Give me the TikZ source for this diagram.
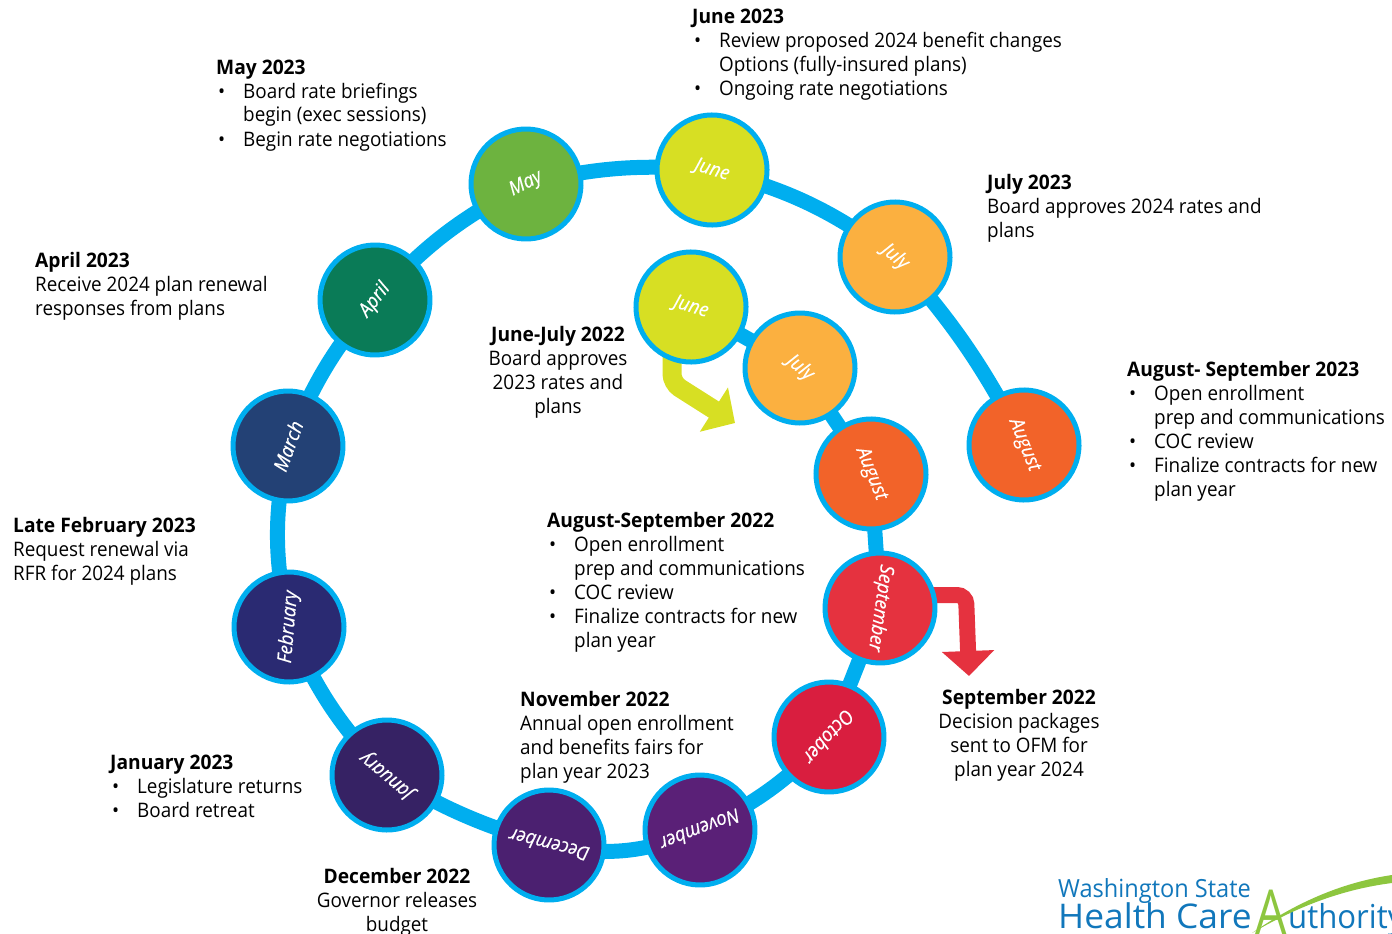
\documentclass[tikz,border=0pt]{standalone}
\usepackage{fontspec}
\setmainfont[FakeStretch=0.943,BoldFeatures={FakeStretch=0.96}]{Open Sans}
\newfontfamily\logofont[FakeStretch=1.04]{Open Sans}
\newfontfamily\logoletter[FakeStretch=0.8]{Open Sans}
\usetikzlibrary{arrows.meta,backgrounds}
\definecolor{ringblue}{HTML}{00AEEF}
\definecolor{cJune}{HTML}{D7DF23}
\definecolor{cMay}{HTML}{6DB33F}
\definecolor{cJuly}{HTML}{FBB040}
\definecolor{cAugust}{HTML}{F26329}
\definecolor{cApril}{HTML}{0A7B57}
\definecolor{cMarch}{HTML}{234175}
\definecolor{cFebruary}{HTML}{2A2A72}
\definecolor{cJanuary}{HTML}{362264}
\definecolor{cDecember}{HTML}{4B2070}
\definecolor{cNovember}{HTML}{5A2077}
\definecolor{cOctober}{HTML}{D91E3F}
\definecolor{cSeptember}{HTML}{E5323F}
\definecolor{logoblue}{HTML}{1177BB}
\definecolor{logogreen}{HTML}{8DC63F}
\newcommand{\bitem}{\makebox[27pt][l]{\hspace{2pt}\textbullet}}
\newcommand{\bcont}{\hspace*{27pt}}
\begin{document}
\begin{tikzpicture}[
    x=1pt,
    y=-1pt,
    month/.style={
		circle,
		draw=ringblue,
		line width=5pt,
		minimum size=110pt,
		inner sep=0pt,
		text=white,
		font=\fontsize{19.5}{23}\selectfont\itshape\addfontfeature{FakeBold=0.4}
	},
	note/.style={
		anchor=north west,
		inner sep=0pt,
		font=\fontsize{20}{24}\selectfont
	},
	notemid/.style={
		note,
		anchor=north
	},
	ring/.style={
		draw=ringblue,
		line width=15pt
	},
	sidearrow/.style={
		rounded corners=9pt,
		-{Triangle[length=25pt,width=51pt]}
	}
  ]
  \useasboundingbox (0,0) rectangle (1392,934);

    % the months of the ring
  \node [month, fill=cAugust, rotate=-68] (aug23) at (1024,445) {August};
  \node [month, fill=cJuly, rotate=-40] (jul23) at (895,257) {July};
  \node [month, fill=cJune, rotate=-17] (jun23) at (712,170) {June};
  \node [month, fill=cMay, rotate=27] (may23) at (526,184) {May};
  \node [month, fill=cApril, rotate=52] (apr23) at (375,300) {April};
  \node [month, fill=cMarch, rotate=70] (mar23) at (288,446) {March};
  \node [month, fill=cFebruary, rotate=85] (feb23) at (289,627) {February};
  \node [month, fill=cJanuary, rotate=140] (jan23) at (387,775) {January};
  \node [month, fill=cDecember, rotate=166] (dec22) at (549,845) {December};
  \node [month, fill=cNovember, rotate=201] (nov22) at (700,830) {November};
  \node [month, fill=cOctober, rotate=228] (oct22) at (829,737) {October};
  \node [month, fill=cSeptember, rotate=-98] (sep22) at (880,608) {September};
  \node [month, fill=cAugust, rotate=-68] (aug22) at (871,474) {August};
  \node [month, fill=cJuly, rotate=-40] (jul22) at (800,368) {July};
  \node [month, fill=cJune, rotate=-17] (jun22) at (691,307) {June};

  \coordinate (limebend) at (672,383);
  \coordinate (limetip) at (735,423);
  \coordinate (redbend) at (966,595);
  \coordinate (redtip) at (969,676);

    % the ring and the two side arrows run under the months
  \begin{pgfonlayer}{background}
    \draw [ring] (aug23.center) to [bend right=7] (jul23.center);
    \draw [ring] (jul23.center) to [bend right=11] (jun23.center);
    \draw [ring] (jun23.center) to [bend right=9] (may23.center);
    \draw [ring] (may23.center) to [bend right=10] (apr23.center);
    \draw [ring] (apr23.center) to [bend right=9] (mar23.center);
    \draw [ring] (mar23.center) to [bend right=12] (feb23.center);
    \draw [ring] (feb23.center) to [bend right=10] (jan23.center);
    \draw [ring] (jan23.center) to [bend right=7] (dec22.center);
    \draw [ring] (dec22.center) to [bend right=17] (nov22.center);
    \draw [ring] (nov22.center) to [bend right=10] (oct22.center);
    \draw [ring] (oct22.center) -- (sep22.center);
    \draw [ring] (sep22.center) -- (aug22.center);
    \draw [ring] (aug22.center) -- (jul22.center);
    \draw [ring] (jul22.center) -- (jun22.center);
    \draw [sidearrow, draw=cJune, line width=19pt] (limebend |- jun22.center) -- (limebend) -- (limetip);
    \draw [sidearrow, draw=cSeptember, line width=16pt] (sep22.center |- redbend) -- (redbend) -- (redtip);
  \end{pgfonlayer}

    % the notes
  \node [note] (noteJun23) at (692,7)
 {%
 \begin{tabular}{@{}l@{}}
  \textbf{June 2023}\\
  \bitem Review proposed 2024 benefit changes\\
  \bcont Options (fully-insured plans)\\
  \bitem Ongoing rate negotiations
 \end{tabular}
 };
  \node [note] (noteMay23) at (216,57)
 {%
 \begin{tabular}{@{}l@{}}
  \textbf{May 2023}\\
  \bitem Board rate briefings\\
  \bcont begin (exec sessions)\\
  \bitem Begin rate negotiations
 \end{tabular}
 };
  \node [note] (noteJul23) at (987,172)
 {%
 \begin{tabular}{@{}l@{}}
  \textbf{July 2023}\\
  Board approves 2024 rates and\\
  plans
 \end{tabular}
 };
  \node [note] (noteApr23) at (35,250)
 {%
 \begin{tabular}{@{}l@{}}
  \textbf{April 2023}\\
  Receive 2024 plan renewal\\
  responses from plans
 \end{tabular}
 };
  \node [notemid] (noteJun22) at (558,324)
 {%
 \begin{tabular}{@{}c@{}}
  \textbf{June-July 2022}\\
  Board approves\\
  2023 rates and\\
  plans
 \end{tabular}
 };
  \node [note] (noteAug23) at (1127,359)
 {%
 \begin{tabular}{@{}l@{}}
  \textbf{August- September 2023}\\
  \bitem Open enrollment\\
  \bcont prep and communications\\
  \bitem COC review\\
  \bitem Finalize contracts for new\\
  \bcont plan year
 \end{tabular}
 };
  \node [note] (noteFeb23) at (13,515)
 {%
 \begin{tabular}{@{}l@{}}
  \textbf{Late February 2023}\\
  Request renewal via\\
  RFR for 2024 plans
 \end{tabular}
 };
  \node [note] (noteAug22) at (547,510)
 {%
 \begin{tabular}{@{}l@{}}
  \textbf{August-September 2022}\\
  \bitem Open enrollment\\
  \bcont prep and communications\\
  \bitem COC review\\
  \bitem Finalize contracts for new\\
  \bcont plan year
 \end{tabular}
 };
  \node [notemid] (noteSep22) at (1019,687)
 {%
 \begin{tabular}{@{}c@{}}
  \textbf{September 2022}\\
  Decision packages\\
  sent to OFM for\\
  plan year 2024
 \end{tabular}
 };
  \node [note] (noteNov22) at (520,689)
 {%
 \begin{tabular}{@{}l@{}}
  \textbf{November 2022}\\
  Annual open enrollment\\
  and benefits fairs for\\
  plan year 2023
 \end{tabular}
 };
  \node [note] (noteJan23) at (110,752)
 {%
 \begin{tabular}{@{}l@{}}
  \textbf{January 2023}\\
  \bitem Legislature returns\\
  \bitem Board retreat
 \end{tabular}
 };
  \node [notemid] (noteDec22) at (397,866)
 {%
 \begin{tabular}{@{}c@{}}
  \textbf{December 2022}\\
  Governor releases\\
  budget
 \end{tabular}
 };

    % the logo in the corner
  \node [anchor=base west, inner sep=0pt, text=logoblue, font=\fontsize{25}{30}\selectfont] (logoTop) at (1058,897) {Washington State};
  \node [anchor=base west, inner sep=0pt, text=logoblue, font=\fontsize{34}{38}\logofont] (logoMid) at (1058,928) {Health Care};
  \node [anchor=base west, inner sep=0pt, text=logogreen, font=\fontsize{62}{70}\logoletter] (logoA) at (1255,934) {A};
  \node [anchor=base west, inner sep=0pt, text=logoblue, font=\fontsize{33}{38}\selectfont] (logoEnd) at (1288,928) {uthority};
  \fill [logogreen] (1252,933) .. controls (1300,900) and (1345,882) .. (1392,875) -- (1392,883) .. controls (1345,889) and (1300,905) .. (1252,933) -- cycle;
\end{tikzpicture}
\end{document}
